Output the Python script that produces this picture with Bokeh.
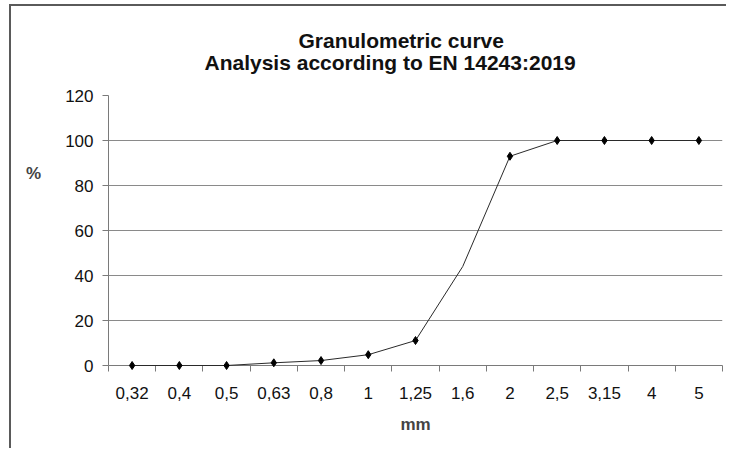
from bokeh.plotting import figure
from bokeh.models import Range1d, FixedTicker, Title
from bokeh.embed import file_html
from bokeh.resources import INLINE

# ---- data ----
sizes_mm = ["0,32", "0,4", "0,5", "0,63", "0,8", "1", "1,25", "1,6", "2", "2,5", "3,15", "4", "5"]
passing_pct = [0, 0, 0, 1.2, 2.2, 4.8, 11.1, 44, 93, 100, 100, 100, 100]
has_marker = [True, True, True, True, True, True, True, False, True, True, True, True, True]
y_ticks = [0, 20, 40, 60, 80, 100, 120]
title_lines = ["Granulometric curve", "Analysis according to EN 14243:2019"]

FONT = "Liberation Sans"
n = len(sizes_mm)
xs = [i + 0.5 for i in range(n)]

p = figure(width=717, height=444, output_backend="svg", toolbar_location=None,
           x_range=Range1d(0, n), y_range=Range1d(0, 120),
           min_border_left=97, min_border_right=6, min_border_top=89, min_border_bottom=85,
           outline_line_color=None,
           styles={"margin-left": "9px", "margin-top": "4px",
                   "border-left": "2px solid #5a5a5a", "border-top": "2px solid #5a5a5a"})

# spacer panel between plot frame and title block
p.add_layout(Title(text=" ", text_font=FONT, text_font_size="21px", standoff=-2), "above")
# title lines: left-aligned with offsets so both are centred near x=401
# (offsets from Liberation Sans Bold advance widths at 21px)
for t, off in zip(reversed(title_lines), [96, 190]):
    p.add_layout(Title(text=t, align="left", offset=off, text_font=FONT,
                       text_font_style="bold", text_font_size="21px",
                       text_color="#111111", standoff=-3), "above")

# line through all points
p.line(xs, passing_pct, line_color="#2a2a2a", line_width=1, level="overlay")
mx = [x for x, m in zip(xs, has_marker) if m]
my = [y for y, m in zip(passing_pct, has_marker) if m]
p.scatter(mx, my, marker="diamond", size=8, fill_color="black", line_color="black",
          level="overlay")

# x axis: labels at centres, tick marks at boundaries
xt = FixedTicker(ticks=xs, minor_ticks=list(range(n + 1)))
p.xaxis.ticker = xt
p.xaxis.major_label_overrides = {x: s for x, s in zip(xs, sizes_mm)}
p.xaxis.major_tick_out = 0
p.xaxis.major_tick_in = 0
p.xaxis.minor_tick_out = 6
p.xaxis.minor_tick_in = 0
p.xaxis.minor_tick_line_color = "#7a7a7a"
p.xaxis.axis_line_color = "#7a7a7a"
p.xaxis.major_label_text_font = FONT
p.xaxis.major_label_text_font_size = "17px"
p.xaxis.major_label_text_color = "#111111"
p.xaxis.major_label_standoff = 15
p.xaxis.axis_label = "mm"
p.xaxis.axis_label_text_font = FONT
p.xaxis.axis_label_text_font_style = "bold"
p.xaxis.axis_label_text_font_size = "17px"
p.xaxis.axis_label_standoff = 13
p.xgrid.visible = False

# y axis
p.yaxis.ticker = FixedTicker(ticks=y_ticks)
p.yaxis.major_tick_out = 6
p.yaxis.major_tick_in = 0
p.yaxis.minor_tick_line_color = None
p.yaxis.major_tick_line_color = "#7a7a7a"
p.yaxis.axis_line_color = "#7a7a7a"
p.yaxis.major_label_text_font = FONT
p.yaxis.major_label_text_font_size = "17px"
p.yaxis.major_label_text_color = "#111111"
p.yaxis.major_label_standoff = 9
p.yaxis.axis_label = "%\n\n\n\n\n"
p.yaxis.axis_label_orientation = "horizontal"
p.yaxis.axis_label_text_font = FONT
p.yaxis.axis_label_text_font_style = "bold"
p.yaxis.axis_label_text_font_size = "17px"
p.yaxis.axis_label_standoff = 21
p.ygrid.grid_line_color = "#8a8a8a"
p.ygrid.grid_line_width = 1

open("out.html", "w").write(file_html(p, INLINE))
